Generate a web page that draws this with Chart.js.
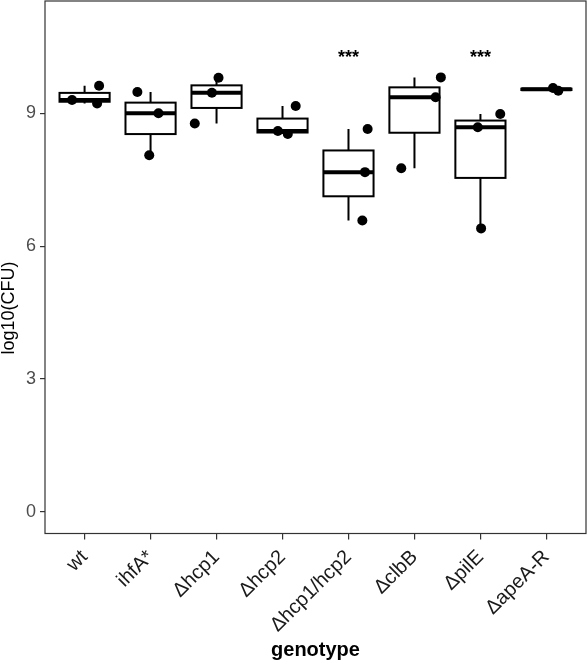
<!DOCTYPE html>
<html>
<head>
<meta charset="utf-8">
<script src="https://cdn.jsdelivr.net/npm/chart.js@4.4.1/dist/chart.umd.min.js"></script>
<style>
    html, body { margin: 0; padding: 0; background: #fff; }
    #wrap { width: 588px; height: 663px; }
</style>
</head>
<body>
<div id="wrap"><canvas id="cfuChart"></canvas></div>
<script>
// categories
const genotypes = ['wt', 'ihfA*', '\u0394hcp1', '\u0394hcp2', '\u0394hcp1/hcp2', '\u0394clbB', '\u0394pilE', '\u0394apeA-R'];
const yTicks = [0, 3, 6, 9];

// box stats per genotype, log10(CFU)
const whiskerLow  = [9.22, 8.05, 8.77, 8.53, 6.58, 7.76, 6.40, 9.51];
const boxLow      = [9.26, 8.53, 9.12, 8.565, 7.125, 8.56, 7.54, 9.525];
const medians     = [9.30, 9.00, 9.465, 8.60, 7.67, 9.36, 8.685, 9.54];
const boxHigh     = [9.46, 9.24, 9.63, 8.88, 8.16, 9.585, 8.835, 9.555];
const whiskerHigh = [9.62, 9.48, 9.80, 9.165, 8.645, 9.81, 8.985, 9.57];

// individual replicates (x = genotype index + jitter)
const pointX = [-0.19, 0.22, 0.19,  0.80, 1.12, 0.98,  2.03, 1.93, 1.67,  3.20, 2.93, 3.08,
                4.29, 4.25, 4.21,  5.40, 5.32, 4.80,  6.30, 5.96, 6.01,  7.10, 7.18];
const pointY = [9.30, 9.62, 9.22,  9.48, 9.00, 8.05,  9.80, 9.465, 8.77,  9.165, 8.60, 8.53,
                8.645, 7.67, 6.58,  9.81, 9.36, 7.76,  8.985, 8.685, 6.40,  9.57, 9.51];

// significance marks
const starX = [4, 6];
const starY = [10.25, 10.25];
const starText = ['***', '***'];

const FONT = "'Liberation Sans', Arial, Helvetica, sans-serif";

const boxPlugin = {
    id: 'boxes',
    beforeDatasetsDraw(chart) {
        const ctx = chart.ctx;
        const x = chart.scales.x;
        const y = chart.scales.y;
        const half = 0.38;
        ctx.save();
        ctx.strokeStyle = '#000';
        ctx.lineCap = 'butt';
        for (let i = 0; i < genotypes.length; i++) {
            const cx = x.getPixelForValue(i);
            const x0 = x.getPixelForValue(i - half);
            const x1 = x.getPixelForValue(i + half);
            const top = y.getPixelForValue(boxHigh[i]);
            const bot = y.getPixelForValue(boxLow[i]);
            // whiskers
            ctx.lineWidth = 2;
            ctx.beginPath();
            ctx.moveTo(cx, top);
            ctx.lineTo(cx, y.getPixelForValue(whiskerHigh[i]));
            ctx.moveTo(cx, bot);
            ctx.lineTo(cx, y.getPixelForValue(whiskerLow[i]));
            ctx.stroke();
            // box
            ctx.fillStyle = '#fff';
            ctx.fillRect(x0, top, x1 - x0, bot - top);
            ctx.strokeRect(x0, top, x1 - x0, bot - top);
            // median
            ctx.lineWidth = 4;
            ctx.beginPath();
            const my = y.getPixelForValue(medians[i]);
            ctx.moveTo(x0, my);
            ctx.lineTo(x1, my);
            ctx.stroke();
        }
        ctx.restore();
    },
    afterDatasetsDraw(chart) {
        const ctx = chart.ctx;
        const x = chart.scales.x;
        const y = chart.scales.y;
        const a = chart.chartArea;
        ctx.save();
        ctx.fillStyle = '#000';
        ctx.font = 'bold 18px ' + FONT;
        ctx.textAlign = 'center';
        ctx.textBaseline = 'middle';
        for (let i = 0; i < starX.length; i++) {
            ctx.fillText(starText[i], x.getPixelForValue(starX[i]), y.getPixelForValue(starY[i]));
        }
        // panel border
        ctx.strokeStyle = '#333';
        ctx.lineWidth = 1.2;
        ctx.strokeRect(a.left, a.top, a.right - a.left, a.bottom - a.top);
        // y axis title
        ctx.translate(9, 308);
        ctx.rotate(-Math.PI / 2);
        ctx.font = '18px ' + FONT;
        ctx.fillText('log10(CFU)', 0, 0);
        ctx.restore();
    }
};

const ctx1 = document.getElementById('cfuChart').getContext('2d');
const cfuChart = new Chart(ctx1, {
    type: 'scatter',
    data: {
        datasets: [{
            label: 'replicates',
            data: pointX.map((v, i) => ({ x: v, y: pointY[i] })),
            backgroundColor: '#000',
            borderWidth: 0,
            pointRadius: 5,
            pointHoverRadius: 5
        }]
    },
    options: {
        responsive: true,
        maintainAspectRatio: false,
        animation: false,
        layout: { autoPadding: false, padding: { top: 1, right: 2, left: 0, bottom: 0 } },
        plugins: {
            legend: { display: false },
            tooltip: { enabled: false }
        },
        scales: {
            x: {
                type: 'linear',
                min: -0.6,
                max: 7.6,
                afterBuildTicks: axis => { axis.ticks = genotypes.map((g, i) => ({ value: i })); },
                afterFit: axis => {
                    axis.height = 129.5;
                    axis.paddingLeft = 0;
                    axis.paddingRight = 0;
                },
                grid: { drawOnChartArea: false, drawTicks: true, tickLength: 6, color: '#333', lineWidth: 1.2 },
                border: { display: false },
                ticks: {
                    autoSkip: false,
                    maxRotation: 45,
                    minRotation: 45,
                    padding: 6,
                    color: '#1a1a1a',
                    font: { family: FONT, size: 20 },
                    callback: v => genotypes[v]
                },
                title: {
                    display: true,
                    text: 'genotype',
                    color: '#000',
                    font: { family: FONT, size: 20, weight: 'bold' },
                    padding: { top: 0, bottom: 1 }
                }
            },
            y: {
                min: -0.49,
                max: 11.535,
                afterBuildTicks: axis => { axis.ticks = yTicks.map(v => ({ value: v })); },
                afterFit: axis => {
                    axis.width = 45;
                    axis.paddingTop = 0;
                    axis.paddingBottom = 0;
                },
                grid: { drawOnChartArea: false, drawTicks: true, tickLength: 5, color: '#333', lineWidth: 1.2 },
                border: { display: false },
                ticks: {
                    padding: 4,
                    color: '#4d4d4d',
                    font: { family: FONT, size: 18 }
                }
            }
        }
    },
    plugins: [boxPlugin]
});
</script>
</body>
</html>
